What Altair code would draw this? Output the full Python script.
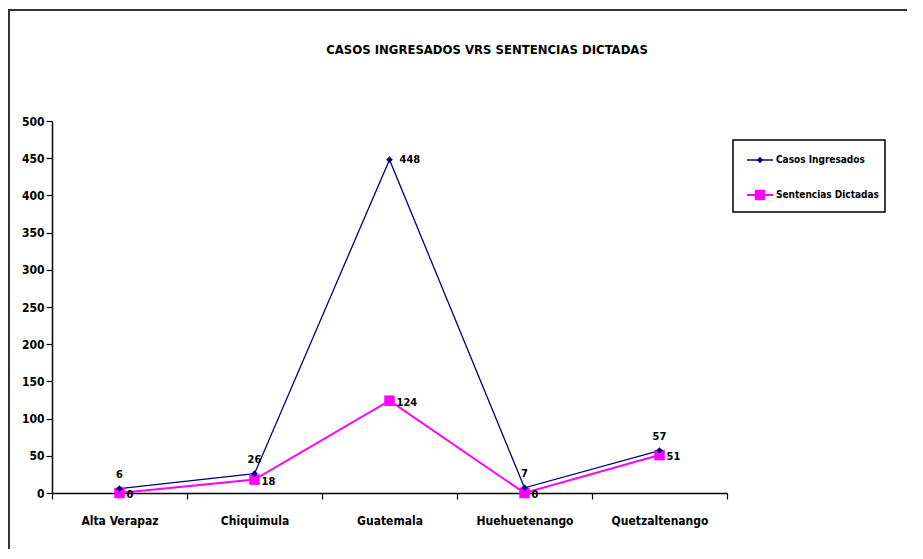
import altair as alt
import pandas as pd

categories = ["Alta Verapaz", "Chiquimula", "Guatemala", "Huehuetenango", "Quetzaltenango"]
casos = [6, 26, 448, 7, 57]
sentencias = [0, 18, 124, 0, 51]
series_names = ["Casos Ingresados", "Sentencias Dictadas"]
title_text = "CASOS INGRESADOS VRS SENTENCIAS DICTADAS"

FONT = "Liberation Sans Narrow, DejaVu Sans Condensed, Liberation Sans, sans-serif"
NAVY = "#000080"
MAGENTA = "#FF00FF"

df_c = pd.DataFrame({"cat": categories, "val": casos})
df_s = pd.DataFrame({"cat": categories, "val": sentencias})

W, H = 675, 372

xenc = alt.X("cat:N", sort=categories, title=None,
             scale=alt.Scale(paddingInner=0, paddingOuter=0),
             axis=alt.Axis(labelAngle=0, labelFont=FONT, labelFontSize=12, labelFontWeight="bold",
                           labelColor="black", labelPadding=16, tickBand="extent", tickSize=6,
                           tickColor="black", domainColor="black", domainWidth=1.5, tickWidth=1.2))
yenc = alt.Y("val:Q", title=None,
             scale=alt.Scale(domain=[0, 500]),
             axis=alt.Axis(values=list(range(0, 501, 50)), grid=False, labelFont=FONT, labelFontSize=12,
                           labelFontWeight="bold", labelColor="black", tickSize=6, tickColor="black",
                           domainColor="black", domainWidth=1.5, tickWidth=1.2, labelPadding=2))

base_c = alt.Chart(df_c)
base_s = alt.Chart(df_s)

line_c = base_c.mark_line(color=NAVY, strokeWidth=1.3).encode(x=xenc, y=yenc)
pts_c = base_c.mark_point(shape="diamond", filled=True, color=NAVY, size=45, opacity=1).encode(x=xenc, y=yenc)
line_s = base_s.mark_line(color=MAGENTA, strokeWidth=2).encode(x=xenc, y=yenc)
pts_s = base_s.mark_square(color=MAGENTA, size=110, opacity=1).encode(x=xenc, y=yenc)

txt_style = dict(font=FONT, fontSize=11, fontWeight="bold", color="black")
lab_c_above = base_c.transform_filter(alt.datum.cat != "Guatemala").mark_text(
    dy=-14, **txt_style).encode(x=xenc, y=yenc, text="val:Q")
lab_c_right = base_c.transform_filter(alt.datum.cat == "Guatemala").mark_text(
    align="left", dx=10, **txt_style).encode(x=xenc, y=yenc, text="val:Q")
lab_s = base_s.mark_text(align="left", dx=7, dy=2, **txt_style).encode(x=xenc, y=yenc, text="val:Q")

one = pd.DataFrame({"a": [0]})

# title
title = alt.Chart(pd.DataFrame({"t": [title_text]})).mark_text(
    font=FONT, fontSize=13, fontWeight="bold", color="black").encode(
    x=alt.value(435), y=alt.value(-71), text="t:N")

# frame
frame_v = alt.Chart(one).mark_rule(color="#333333", strokeWidth=2).encode(
    x=alt.value(-43), y=alt.value(-111), y2=alt.value(H + 80))
frame_h = alt.Chart(one).mark_rule(color="#333333", strokeWidth=2).encode(
    x=alt.value(-44), x2=alt.value(W + 200), y=alt.value(-111))

# legend
leg_box = alt.Chart(one).mark_rect(fill="white", stroke="black", strokeWidth=1.5).encode(
    x=alt.value(681), x2=alt.value(833), y=alt.value(19), y2=alt.value(91))
leg_l1 = alt.Chart(one).mark_rule(color=NAVY, strokeWidth=1.5).encode(
    x=alt.value(695), x2=alt.value(721), y=alt.value(39))
leg_p1 = alt.Chart(one).mark_point(shape="diamond", filled=True, color=NAVY, size=45, opacity=1).encode(
    x=alt.value(708), y=alt.value(39))
leg_l2 = alt.Chart(one).mark_rule(color=MAGENTA, strokeWidth=2).encode(
    x=alt.value(695), x2=alt.value(721), y=alt.value(74))
leg_p2 = alt.Chart(one).mark_square(color=MAGENTA, size=110, opacity=1).encode(
    x=alt.value(708), y=alt.value(74))
leg_style = dict(align="left", baseline="middle", font=FONT, fontSize=10, fontWeight="bold", color="black")
leg_t1 = alt.Chart(pd.DataFrame({"name": [series_names[0]]})).mark_text(**leg_style).encode(
    x=alt.value(724), y=alt.value(39), text="name:N")
leg_t2 = alt.Chart(pd.DataFrame({"name": [series_names[1]]})).mark_text(**leg_style).encode(
    x=alt.value(724), y=alt.value(74), text="name:N")

chart = alt.layer(
    frame_v, frame_h, title,
    line_s, line_c, pts_s, pts_c,
    lab_c_above, lab_c_right, lab_s,
    leg_box, leg_l1, leg_l2, leg_p1, leg_p2, leg_t1, leg_t2,
).properties(
    width=W, height=H,
    autosize=alt.AutoSizeParams(type="none"),
    padding={"left": 44, "top": 113, "right": 180, "bottom": 56},
).configure_view(stroke=None)

chart.save("out.html", embed_options={"renderer": "svg", "actions": False})
